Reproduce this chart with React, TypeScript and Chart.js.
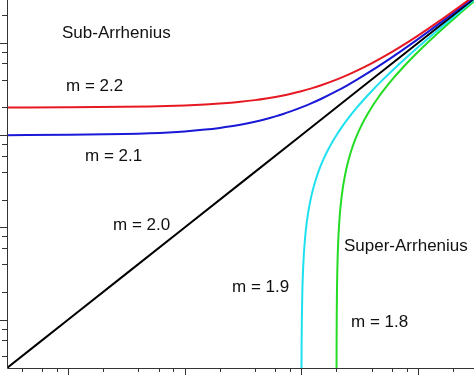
import React, { useEffect, useRef } from "react";
import { Chart, registerables } from "chart.js";

Chart.register(...registerables);

// Curve data (log-log axes)
const redX = [0.3, 1, 3, 5, 10, 15, 20, 25, 30, 40, 50, 60, 70, 80, 100, 120, 150, 200, 250, 300, 400, 500, 700, 1000, 1500, 2000, 3000];
const redY = [200, 201, 203, 205, 210, 215, 220, 225, 230, 240, 250, 260, 270, 280, 300, 320, 350, 400, 450, 500, 600, 700, 900, 1200, 1700, 2200, 3200];

const blueX = [0.3, 1, 3, 5, 10, 15, 20, 25, 30, 40, 50, 60, 70, 80, 100, 120, 150, 200, 250, 300, 400, 500, 700, 1000, 1500, 2000, 3000];
const blueY = [100, 101, 103, 105, 110, 115, 120, 125, 130, 140, 150, 160, 170, 180, 200, 220, 250, 300, 350, 400, 500, 600, 800, 1100, 1600, 2100, 3100];

const blackX = [0.3, 1, 10, 100, 1000, 3000];
const blackY = [0.3, 1, 10, 100, 1000, 3000];

const cyanX = [100.3, 100.5, 101, 102, 103, 105, 107, 110, 113, 116, 120, 125, 130, 140, 150, 160, 170, 185, 200, 220, 250, 300, 350, 400, 500, 600, 800, 1100, 1600, 2100, 3100];
const cyanY = [0.3, 0.5, 1, 2, 3, 5, 7, 10, 13, 16, 20, 25, 30, 40, 50, 60, 70, 85, 100, 120, 150, 200, 250, 300, 400, 500, 700, 1000, 1500, 2000, 3000];

const greenX = [200.3, 200.5, 201, 202, 203, 205, 207, 210, 213, 216, 220, 225, 230, 240, 250, 260, 270, 285, 300, 320, 350, 400, 450, 500, 600, 700, 900, 1200, 1700, 2200, 3200];
const greenY = [0.3, 0.5, 1, 2, 3, 5, 7, 10, 13, 16, 20, 25, 30, 40, 50, 60, 70, 85, 100, 120, 150, 200, 250, 300, 400, 500, 700, 1000, 1500, 2000, 3000];

// Axis ticks
const majorTicks = [1, 10, 100, 1000];
const minorTicks = [0.4, 0.6, 0.8, 2, 4, 6, 8, 20, 40, 60, 80, 200, 400, 600, 800, 2000];

const xMin = 0.3;
const xMax = 3020;
const yMin = 0.316;
const yMax = 2920;

// Annotations
const labels = [
  { text: "Sub-Arrhenius", x: 62, y: 37.5 },
  { text: "m = 2.2", x: 66, y: 91 },
  { text: "m = 2.1", x: 85, y: 161 },
  { text: "m = 2.0", x: 113, y: 230 },
  { text: "m = 1.9", x: 232, y: 292 },
  { text: "Super-Arrhenius", x: 344, y: 251 },
  { text: "m = 1.8", x: 351, y: 327 },
];

const zip = (xs: number[], ys: number[]) => xs.map((x, i) => ({ x, y: ys[i] }));

export default function App() {
  const ref = useRef<HTMLCanvasElement | null>(null);

  useEffect(() => {
    document.body.style.margin = "0";
    const canvas = ref.current;
    if (!canvas) return;

    const axesPlugin = {
      id: "axesPlugin",
      afterDatasetsDraw(chart: any) {
        const ctx = chart.ctx;
        const area = chart.chartArea;
        const xs = chart.scales.x;
        const ys = chart.scales.y;
        ctx.save();
        ctx.strokeStyle = "#333";
        ctx.lineWidth = 1;
        ctx.beginPath();
        ctx.moveTo(area.left + 0.5, area.top);
        ctx.lineTo(area.left + 0.5, area.bottom + 0.5);
        ctx.lineTo(area.right, area.bottom + 0.5);
        ctx.stroke();
        const drawX = (v: number, len: number) => {
          const px = Math.round(xs.getPixelForValue(v)) + 0.5;
          ctx.beginPath();
          ctx.moveTo(px, area.bottom);
          ctx.lineTo(px, area.bottom + len);
          ctx.stroke();
        };
        const drawY = (v: number, len: number) => {
          const py = Math.round(ys.getPixelForValue(v)) + 0.5;
          ctx.beginPath();
          ctx.moveTo(area.left, py);
          ctx.lineTo(area.left - len, py);
          ctx.stroke();
        };
        majorTicks.forEach((v) => {
          drawX(v, 7);
          drawY(v, 7);
        });
        minorTicks.forEach((v) => {
          if (v >= xMin && v <= xMax) drawX(v, 4);
          if (v >= yMin && v <= yMax) drawY(v, 5);
        });
        ctx.fillStyle = "#111";
        ctx.font = '17px "Liberation Sans", Arial, sans-serif';
        ctx.textBaseline = "alphabetic";
        ctx.textAlign = "left";
        labels.forEach((l) => ctx.fillText(l.text, l.x, l.y));
        ctx.restore();
      },
    };

    const ds = (label: string, xs: number[], ys: number[], color: string) => ({
      label,
      data: zip(xs, ys),
      borderColor: color,
      backgroundColor: color,
      borderWidth: 2,
      pointRadius: 0,
      cubicInterpolationMode: "monotone" as const,
      fill: false,
    });

    const chart = new Chart(canvas, {
      type: "line",
      data: {
        datasets: [
          ds("m = 2.2", redX, redY, "rgb(230,25,35)"),
          ds("m = 2.1", blueX, blueY, "rgb(25,25,215)"),
          ds("m = 2.0", blackX, blackY, "#000"),
          ds("m = 1.9", cyanX, cyanY, "rgb(30,225,240)"),
          ds("m = 1.8", greenX, greenY, "rgb(35,220,35)"),
        ],
      },
      options: {
        responsive: false,
        animation: false,
        layout: { padding: { left: 7, right: 0, top: 0, bottom: 10 } },
        plugins: { legend: { display: false }, tooltip: { enabled: false } },
        scales: {
          x: { type: "logarithmic", min: xMin, max: xMax, display: false },
          y: { type: "logarithmic", min: yMin, max: yMax, display: false },
        },
      },
      plugins: [axesPlugin],
    });
    return () => chart.destroy();
  }, []);

  return <canvas ref={ref} width={474} height={378} style={{ display: "block" }} />;
}
